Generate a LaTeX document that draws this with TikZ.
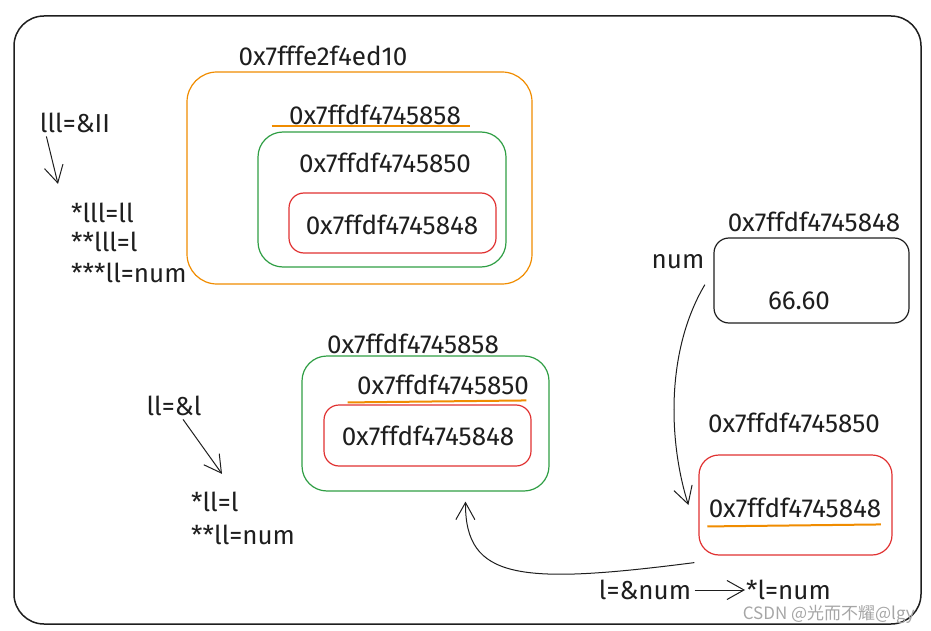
\documentclass[tikz,border=0pt]{standalone}
\usepackage{fontspec}
\setmainfont{Fira Sans}
\newfontfamily\cjkfont{Noto Sans CJK SC}
\usetikzlibrary{arrows.meta,positioning}
\definecolor{exorange}{HTML}{F08C00}
\definecolor{exgreen}{HTML}{2F9E44}
\definecolor{exred}{HTML}{E03131}
\definecolor{exink}{HTML}{1E1E1E}
\begin{document}
\begin{tikzpicture}[
x=1pt,y=-1pt,
font=\fontsize{26}{30}\selectfont,
every node/.style={text=exink},
cell/.style={draw,rounded corners=#1,line width=1.2pt,inner sep=0pt},
cell/.default=15pt,
note/.style={inner sep=1pt,anchor=west},
arr/.style={-{Straight Barb[length=17pt,width=19pt]},line width=1pt,exink},
uline/.style={draw=exorange,line width=2pt}]
\useasboundingbox (0,0) rectangle (931,631);
\node[cell=30pt,draw=exink,line width=1.5pt,minimum width=907pt,minimum height=608pt] (frame) at (467.5,320) {};
% pointer lll
\node (lll) at (75,123) {lll=\&II};
\node[note] (lllv1) at (70,213) {*lll=ll};
\node[note] (lllv2) at (70,242) {**lll=l};
\node[note] (lllv3) at (70,273) {***ll=num};
\node (lllat) at (323,56) {0x7fffe2f4ed10};
\node[cell=30pt,draw=exorange,minimum width=345pt,minimum height=212pt] (lllbox) at (359.5,178) {};
\node (lllval) at (375,115) {0x7ffdf4745858};
\node[cell=25pt,draw=exgreen,minimum width=248pt,minimum height=135pt] (lllmid) at (382,199.5) {};
\node (lllmidval) at (385,163) {0x7ffdf4745850};
\node[cell,draw=exred,minimum width=207pt,minimum height=60pt] (lllin) at (392.5,223) {};
\node (lllinval) at (392,225) {0x7ffdf4745848};
% value num
\node (numat) at (814,222) {0x7ffdf4745848};
\node[cell,draw=exink,minimum width=195pt,minimum height=85pt] (numbox) at (811.5,280.5) {};
\node (numval) at (799,301) {66.60};
\node (num) at (678,262) {num};
% pointer ll
\node (ll) at (174,406) {ll=\&l};
\node[note] (llv1) at (190,502) {*ll=l};
\node[note] (llv2) at (190,535) {**ll=num};
\node (llat) at (413,344) {0x7ffdf4745858};
\node[cell=25pt,draw=exgreen,minimum width=247pt,minimum height=135pt] (llbox) at (425.5,423.5) {};
\node (llval) at (443,385) {0x7ffdf4745850};
\node[cell,draw=exred,minimum width=207pt,minimum height=61pt] (llin) at (427.5,435.5) {};
\node (llinval) at (428,436) {0x7ffdf4745848};
% pointer l
\node (lat) at (794,423) {0x7ffdf4745850};
\node[cell=20pt,draw=exred,minimum width=193pt,minimum height=100pt] (lbox) at (795.5,505) {};
\node (lval) at (795,508) {0x7ffdf4745848};
\node (lnum) at (645,590) {l=\&num};
\node[note] (lstar) at (745,590) {*l=num};
\node[anchor=east,text=gray!70,inner sep=0pt,font=\cjkfont\fontsize{17}{19}\selectfont] (wm) at (915,614) {CSDN @光而不耀@lgy};
% underlines
\draw[uline] ([xshift=-14pt,yshift=2pt]lllval.south west) -- ([xshift=6pt,yshift=2pt]lllval.south east);
\draw[uline] ([xshift=-6pt,yshift=-4pt]llval.south west) -- ([xshift=-6pt,yshift=-2pt]llval.south east);
\draw[uline] ([xshift=2pt,yshift=-5pt]lval.south west) -- ([xshift=-4pt,yshift=-3pt]lval.south east);
% arrows
\draw[arr] ([xshift=10pt]lll.south west) -- ([xshift=-12pt,yshift=18pt]lllv1.north west);
\draw[arr] ([xshift=40pt]ll.south west) -- ([xshift=32pt,yshift=17pt]llv1.north west);
\draw[arr] ([xshift=-3pt,yshift=-12pt]num.south east) .. controls (666,350) and (668,440) .. ([xshift=-10pt]lbox.west);
\draw[arr] ([xshift=-4pt,yshift=-7pt]lbox.south west) .. controls (520,585) and (465,580) .. ([xshift=40pt,yshift=-10pt]llbox.south);
\draw[arr] (lnum) -- (lstar);
\end{tikzpicture}
\end{document}
